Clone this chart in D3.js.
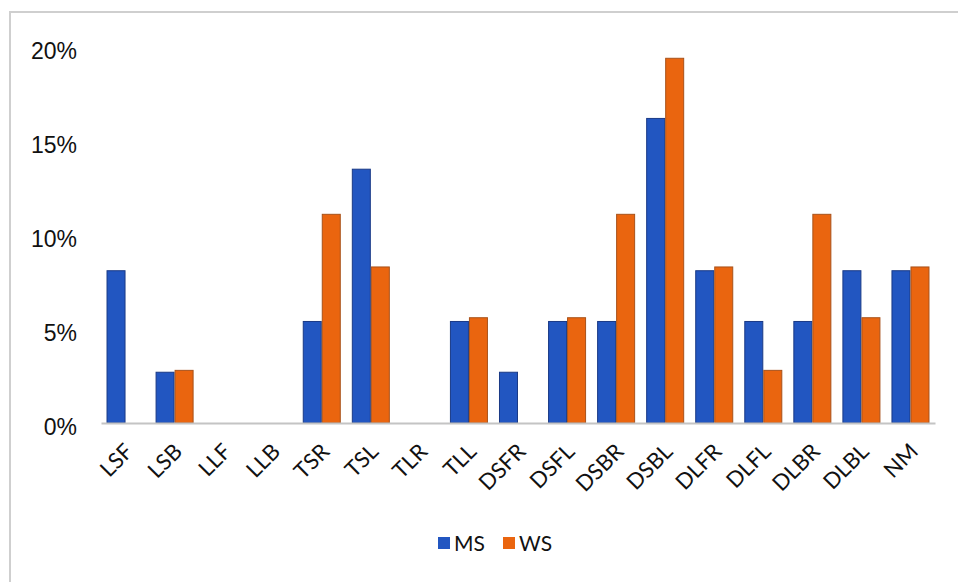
<!DOCTYPE html>
<html>
<head>
<meta charset="utf-8">
<script src="https://cdn.jsdelivr.net/npm/d3@7/dist/d3.min.js"></script>
<style>
  html, body { margin: 0; padding: 0; background: #ffffff; }
  svg { display: block; }
</style>
</head>
<body>
<svg id="chart" width="958" height="582"></svg>
<script>
// Share of each category, in percent
const categories = ["LSF", "LSB", "LLF", "LLB", "TSR", "TSL", "TLR", "TLL", "DSFR",
  "DSFL", "DSBR", "DSBL", "DLFR", "DLFL", "DLBR", "DLBL", "NM"];
const msValues = [8.1, 2.7, 0, 0, 5.4, 13.5, 0, 5.4, 2.7, 5.4, 5.4, 16.2, 8.1, 5.4, 5.4, 8.1, 8.1];
const wsValues = [0, 2.8, 0, 0, 11.1, 8.3, 0, 5.6, 0, 5.6, 11.1, 19.4, 8.3, 2.8, 11.1, 5.6, 8.3];
const seriesNames = ["MS", "WS"];
const yTicks = [0, 5, 10, 15, 20];

const fills = { MS: "#2256c1", WS: "#ea650f" };
const strokes = { MS: "#1a3a86", WS: "#a8521a" };

const svg = d3.select("#chart");

// Outer frame of the chart area
svg.append("rect")
  .attr("x", 10).attr("y", 12)
  .attr("width", 960).attr("height", 600)
  .attr("fill", "#ffffff")
  .attr("stroke", "#cfcfcf")
  .attr("stroke-width", 2);

const plot = { left: 101, right: 935, top: 47, bottom: 423 };

const x = d3.scaleBand()
  .domain(categories)
  .range([plot.left, plot.right])
  .paddingInner(0.225)
  .paddingOuter(0.1125);

const xSeries = d3.scaleBand()
  .domain(seriesNames)
  .range([0, x.bandwidth()]);

const y = d3.scaleLinear()
  .domain([0, 20])
  .range([plot.bottom, plot.top]);

const rows = categories.map((c, i) => ({ cat: c, MS: msValues[i], WS: wsValues[i] }));

// Y axis labels (no axis line, no gridlines)
const yAxis = d3.axisLeft(y)
  .tickValues(yTicks)
  .tickFormat(d => d + "%")
  .tickSize(0)
  .tickPadding(0);

const yg = svg.append("g")
  .attr("transform", `translate(77,0)`)
  .call(yAxis);
yg.select(".domain").remove();
yg.selectAll("text")
  .attr("font-family", "'Liberation Sans', Arial, sans-serif")
  .attr("font-size", 23)
  .attr("fill", "#111111")
  .attr("dy", "0.36em")
  .attr("y", 3);

// Bars
const groups = svg.append("g")
  .selectAll("g")
  .data(rows)
  .join("g")
  .attr("transform", d => `translate(${x(d.cat)},0)`);

groups.selectAll("rect")
  .data(d => seriesNames.map(s => ({ s, v: d[s] })).filter(e => e.v > 0))
  .join("rect")
  .attr("x", e => xSeries(e.s) + 0.5)
  .attr("width", xSeries.bandwidth() - 1)
  .attr("y", e => y(e.v))
  .attr("height", e => y(0) - y(e.v))
  .attr("fill", e => fills[e.s])
  .attr("stroke", e => strokes[e.s])
  .attr("stroke-width", 1);

// X axis: baseline and rotated category labels
const xAxis = d3.axisBottom(x).tickSize(0).tickPadding(0);
const xg = svg.append("g")
  .attr("transform", `translate(0,${plot.bottom})`)
  .call(xAxis);
xg.select(".domain")
  .attr("stroke", "#c4c4c4")
  .attr("stroke-width", 2);
xg.selectAll(".tick text")
  .attr("font-family", "Lato, 'Open Sans', sans-serif")
  .attr("font-size", 22)
  .attr("fill", "#111111")
  .attr("text-anchor", "end")
  .attr("y", 0)
  .attr("dy", "0.7em")
  .attr("transform", "translate(-2,19) rotate(-45)");

// Legend
const legend = svg.append("g").attr("transform", "translate(438,537)");
const legendItems = legend.selectAll("g")
  .data(seriesNames)
  .join("g")
  .attr("transform", (d, i) => `translate(${i * 65},0)`);
legendItems.append("rect")
  .attr("width", 12).attr("height", 12)
  .attr("fill", d => fills[d]);
legendItems.append("text")
  .attr("x", 16).attr("y", 6)
  .attr("dy", "0.36em")
  .attr("font-family", "Lato, 'Open Sans', sans-serif")
  .attr("font-size", 21)
  .attr("fill", "#111111")
  .text(d => d);
</script>
</body>
</html>
